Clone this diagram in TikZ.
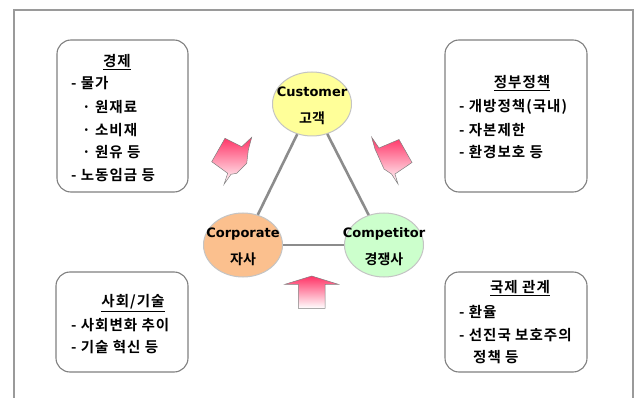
\documentclass[tikz,border=0pt]{standalone}
\usepackage{fontspec}
\usetikzlibrary{shapes.geometric}
\newfontfamily\kr[LetterSpace=7]{Noto Sans CJK KR Bold}
\newfontfamily\krc{Noto Sans CJK KR Bold}
\newfontfamily\lat{DejaVu Sans Bold}
\definecolor{framec}{HTML}{9A9A9A}
\definecolor{boxc}{HTML}{808080}
\definecolor{linec}{HTML}{8C8C8C}
\definecolor{custc}{HTML}{FFFF99}
\definecolor{corpc}{HTML}{FBC08E}
\definecolor{compc}{HTML}{CCFFCC}
\definecolor{circc}{HTML}{C4C4C4}
\definecolor{pinkc}{HTML}{FF3366}
\tikzset{
  envbox/.style={draw=boxc, line width=1.1pt, rounded corners=14pt, fill=white},
  player/.style={ellipse, draw=circc, line width=1pt, minimum width=79pt, minimum height=64pt, inner sep=0pt},
  ptext/.style={inner sep=0pt, align=center, font=\fontsize{13}{27}\selectfont},
  tline/.style={anchor=west, inner sep=0pt, font=\kr\fontsize{14.5}{17}\selectfont},
  ttitle/.style={anchor=center, inner sep=0pt, font=\kr\fontsize{14.5}{17}\selectfont},
  tie/.style={draw=linec, line width=2.6pt},
  force/.style={top color=pinkc, bottom color=white, draw=boxc, line width=0.5pt}
}
\begin{document}
\begin{tikzpicture}[x=1pt,y=-1pt]
\useasboundingbox (0,0) rectangle (637,398);
\fill[white] (0,0) rectangle (637,398);
% outer frame (open at the bottom)
\draw[framec, line width=1.6pt] (14,398) -- (14,10) -- (633,10) -- (633,398);

% environment boxes
\draw[envbox] (57,40) rectangle (188,192);
\draw[envbox] (445,40) rectangle (587,192);
\draw[envbox] (56,272) rectangle (188,372);
\draw[envbox] (445,272) rectangle (587,372);

% box 1
\node[ttitle] (t1) at (117,62) {\underline{경제}};
\node[tline] (a1) at (71,83) {- 물가};
\node[tline] (a2) at (82,107) {· 원재료};
\node[tline] (a3) at (82,130) {· 소비재};
\node[tline] (a4) at (82,152) {· 원유 등};
\node[tline] (a5) at (71,175) {- 노동임금 등};

% box 2
\node[ttitle] (t2) at (522,83) {\underline{정부정책}};
\node[tline] (b1) at (459,107) {- 개방정책(국내)};
\node[tline] (b2) at (459,130) {- 자본제한};
\node[tline] (b3) at (459,152) {- 환경보호 등};

% box 3
\node[ttitle] (t3) at (133,303) {\underline{사회/기술}};
\node[tline] (c1) at (71,325) {- 사회변화 추이};
\node[tline] (c2) at (71,347) {- 기술 혁신 등};

% box 4
\node[ttitle] (t4) at (520,288) {\underline{국제 관계}};
\node[tline] (d1) at (459,312) {- 환율};
\node[tline] (d2) at (459,335) {- 선진국 보호주의};
\node[tline] (d3) at (473,357) {정책 등};

% players
\node[player, fill=custc] (cust) at (312,104) {};
\node[player, fill=corpc] (corp) at (243,245) {};
\node[player, fill=compc] (comp) at (384,245) {};
\node[ptext] (custl) at (312,106) {{\lat Customer}\\{\krc\fontsize{14}{27}\selectfont 고객}};
\node[ptext] (corpl) at (243,247) {{\lat Corporate}\\{\krc\fontsize{14}{27}\selectfont 자사}};
\node[ptext] (compl) at (384,247) {{\lat Competitor}\\{\krc\fontsize{14}{27}\selectfont 경쟁사}};

% ties
\draw[tie] (cust) -- (corp);
\draw[tie] (cust) -- (comp);
\draw[tie] (corp) -- (comp);

% forces
\shade[force] (225,138.3) -- (241.7,146.7) -- (251.7,137.3) -- (248.3,150) -- (246.7,163.3) -- (236.7,173.3) -- (231,174.3) -- (224,184.3) -- (227.7,173.3) -- (211.7,161.7) -- cycle;
\shade[force] (371.7,137.3) -- (379,148) -- (399,139.5) -- (412,162.5) -- (395,174) -- (398,184) -- (391.5,174) -- (384,169) -- (375,149) -- cycle;
\shade[force] (311.7,276) -- (338.3,284.3) -- (325,284.3) -- (325,308.3) -- (298.3,308.3) -- (298.3,284.3) -- (285,284.3) -- cycle;
\end{tikzpicture}
\end{document}
